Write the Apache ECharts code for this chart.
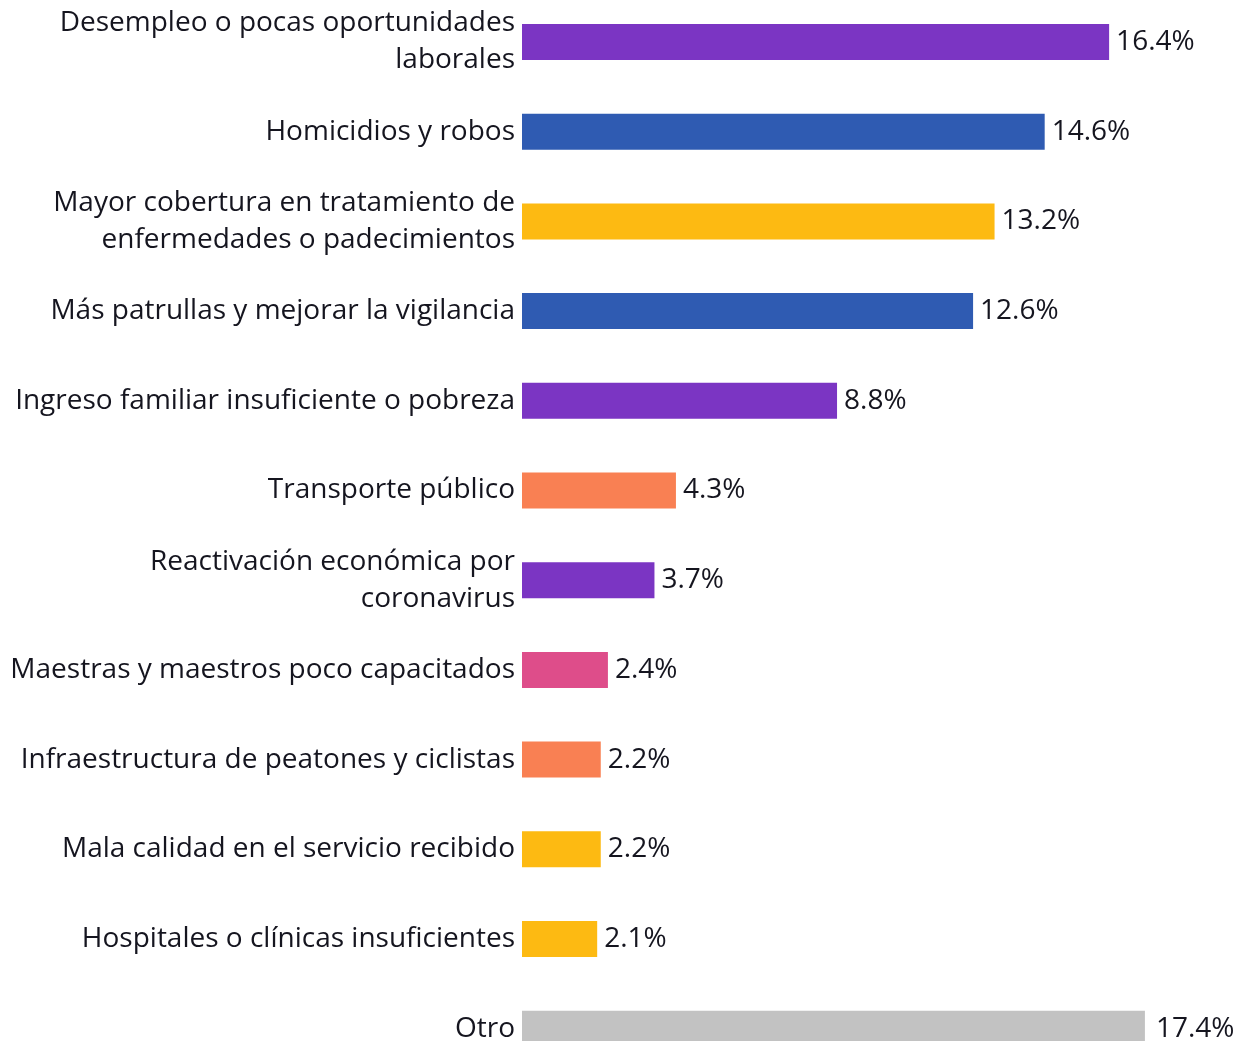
<!DOCTYPE html>
<html>
<head>
<meta charset="utf-8">
<script src="https://cdn.jsdelivr.net/npm/echarts@6/dist/echarts.min.js"></script>
<style>
  html, body { margin: 0; padding: 0; background: #fff; }
  #chart { width: 1238px; height: 1041px; }
</style>
</head>
<body>
<div id="chart"></div>
<script>
const categories = [
  'Desempleo o pocas oportunidades\nlaborales',
  'Homicidios y robos',
  'Mayor cobertura en tratamiento de\nenfermedades o padecimientos',
  'Más patrullas y mejorar la vigilancia',
  'Ingreso familiar insuficiente o pobreza',
  'Transporte público',
  'Reactivación económica por\ncoronavirus',
  'Maestras y maestros poco capacitados',
  'Infraestructura de peatones y ciclistas',
  'Mala calidad en el servicio recibido',
  'Hospitales o clínicas insuficientes',
  'Otro'
];
const values = [16.4, 14.6, 13.2, 12.6, 8.8, 4.3, 3.7, 2.4, 2.2, 2.2, 2.1, 17.4];
const colors = ['#7B35C3', '#2F5BB2', '#FDBA12', '#2F5BB2', '#7B35C3', '#F98053',
                '#7B35C3', '#DE4D8A', '#F98053', '#FDBA12', '#FDBA12', '#C2C2C2'];

const step = 89.7;
const chart = echarts.init(document.getElementById('chart'));

chart.setOption({
  animation: false,
  grid: { left: 522, top: 42 - step / 2, width: 716, height: step * 12, outerBoundsMode: 'none', containLabel: false },
  xAxis: {
    type: 'value', min: 0, max: 20,
    show: false
  },
  yAxis: {
    type: 'category',
    inverse: true,
    data: categories,
    axisLine: { show: false },
    axisTick: { show: false },
    axisLabel: {
      margin: 7,
      fontFamily: 'Open Sans',
      fontSize: 28,
      lineHeight: 37,
      color: '#15151f',
      align: 'right'
    }
  },
  series: [{
    type: 'bar',
    barWidth: 36,
    data: values.map((v, i) => ({
      value: v,
      itemStyle: { color: colors[i] },
      label: i === values.length - 1 ? { distance: 11 } : {}
    })),
    label: {
      show: true,
      position: 'right',
      distance: 7,
      fontFamily: 'Open Sans',
      fontSize: 28,
      color: '#15151f',
      formatter: p => p.value.toFixed(1) + '%'
    }
  }]
});
</script>
</body>
</html>
